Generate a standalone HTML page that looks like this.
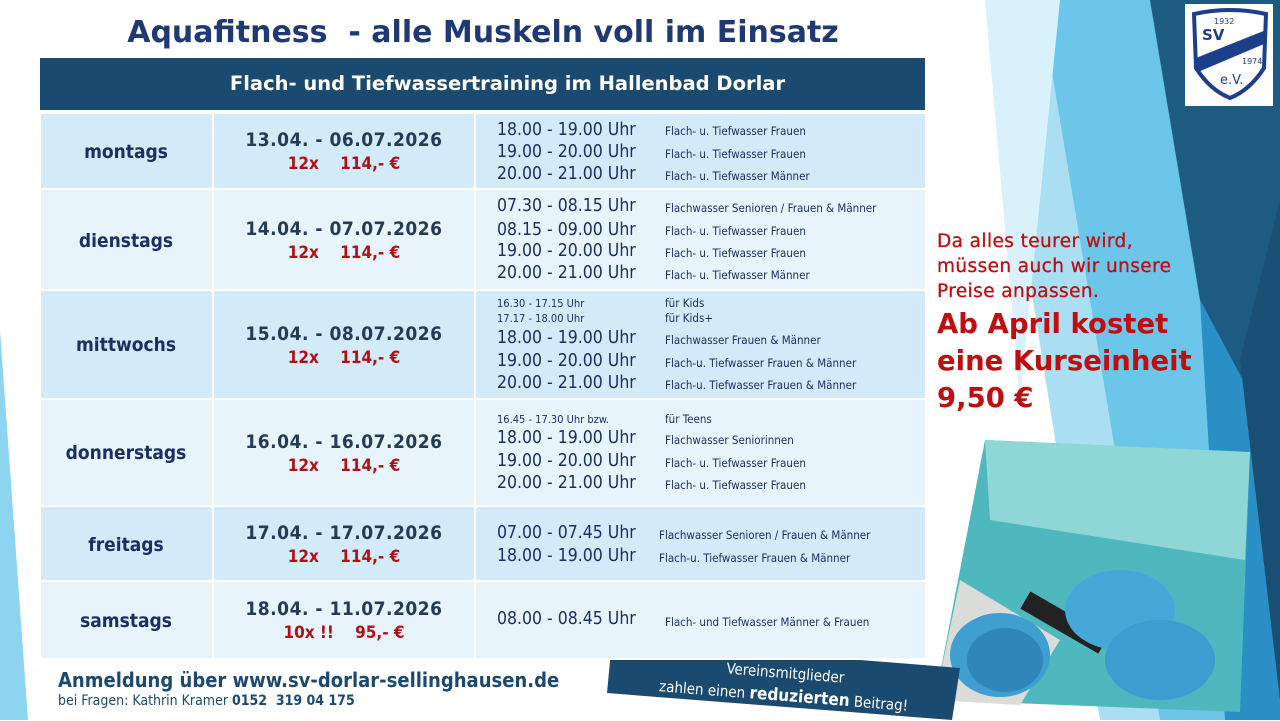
<!DOCTYPE html>
<html><head><meta charset="utf-8"><style>
*{margin:0;padding:0;box-sizing:border-box}
body{width:1280px;height:720px;position:relative;overflow:hidden;background:#fff;font-family:"DejaVu Sans Condensed","DejaVu Sans","Liberation Sans",sans-serif}
.a{position:absolute;white-space:nowrap}
.day{color:#1b2f63;font-weight:bold;font-size:19px;text-align:center;width:172px;left:40px}
.date{color:#243a55;font-weight:bold;font-size:19px;text-align:center;width:260px;left:214px;letter-spacing:0.5px}
.pr{color:#b01015;font-weight:bold;font-size:17px;text-align:center;width:260px;left:214px}
.t{color:#1b2f63;font-size:17.5px;left:497px}
.s{color:#1b2f63;font-size:11.5px}
.ts{color:#1b2f63;font-size:11px;left:497px}
</style></head><body>
<svg class="a" style="left:0;top:0" width="1280" height="720">
<polygon points="985,0 1280,0 1280,720 1100,720" fill="#a9def3"/>
<polygon points="1040,0 1190,0 1280,330 1280,720 1160,720" fill="#6cc6ea"/>
<polygon points="1150,0 1280,0 1280,720 1225,720 1280,450 1200,300" fill="#1d5b83"/>
<polygon points="1200,300 1280,450 1280,720 1225,720" fill="#2a8fc4"/>
<polygon points="1240,360 1280,200 1280,700" fill="#1a4f75"/>
<polygon points="985,0 1060,0 1020,400" fill="#d8f1fb"/>
<polygon points="0,330 0,720 28,720" fill="#8dd4f0"/>
<polygon points="985,440 1250,452 1240,712 935,700" fill="#4fb8bf"/>
<polygon points="985,440 1250,452 1245,560 990,520" fill="#8fd6d6"/>
<polygon points="960,580 1060,640 1020,705 935,700" fill="#d9dcd8"/>
<ellipse cx="1000" cy="655" rx="50" ry="42" fill="#3e9fd0"/>
<ellipse cx="1005" cy="660" rx="38" ry="32" fill="#2f86bb"/>
<rect x="1020" y="610" width="90" height="20" fill="#222" transform="rotate(30 1060 620)"/>
<ellipse cx="1120" cy="610" rx="55" ry="40" fill="#45a8d8"/>
<ellipse cx="1160" cy="660" rx="55" ry="40" fill="#3b9dd0"/>
<polygon points="612,640 960,668 952,720 607,693" fill="#1b4a70"/>
</svg>
<div class="a" style="left:1185px;top:4px;width:88px;height:102px;background:#fff"></div>
<svg class="a" style="left:1190px;top:8px" width="80" height="94"><path d="M4 6 Q40 -2 76 6 L74 60 Q60 82 40 90 Q20 82 6 60 Z" fill="#fff" stroke="#1d3e8a" stroke-width="4"/><polygon points="6,50 76,22 74,36 8,64" fill="#1d3e8a"/>
<text x="24" y="16" font-size="8" fill="#1d3e8a" font-family="DejaVu Sans">1932</text><text x="12" y="32" font-size="15" font-weight="bold" fill="#1d3e8a" font-family="DejaVu Sans">SV</text><text x="52" y="56" font-size="8" fill="#1d3e8a" font-family="DejaVu Sans">1974</text><text x="30" y="76" font-size="13" fill="#1d3e8a" font-family="DejaVu Sans">e.V.</text></svg>

<div class="a" style="left:0;width:966px;top:15px;text-align:center;font-family:'DejaVu Sans',sans-serif;font-weight:bold;font-size:30px;color:#1f3a73">Aquafitness&nbsp; - alle Muskeln voll im Einsatz</div>
<div class="a" style="left:40px;top:58px;width:885px;height:52px;background:#1b4a70;color:#fff;font-weight:bold;font-size:19.5px;text-align:center;line-height:52px;padding-left:50px;font-family:'DejaVu Sans',sans-serif">Flach- und Tiefwassertraining im Hallenbad Dorlar</div>

<div class="a" style="left:40px;top:112px;width:885px;height:548px;background:#fff"></div>
<div class="a" style="left:41px;top:114px;width:171px;height:74px;background:#d3eaf8"></div><div class="a" style="left:214px;top:114px;width:260px;height:74px;background:#d3eaf8"></div><div class="a" style="left:476px;top:114px;width:449px;height:74px;background:#d3eaf8"></div>
<div class="a" style="left:41px;top:190px;width:171px;height:99px;background:#e8f4fb"></div><div class="a" style="left:214px;top:190px;width:260px;height:99px;background:#e8f4fb"></div><div class="a" style="left:476px;top:190px;width:449px;height:99px;background:#e8f4fb"></div>
<div class="a" style="left:41px;top:291px;width:171px;height:107px;background:#d3eaf8"></div><div class="a" style="left:214px;top:291px;width:260px;height:107px;background:#d3eaf8"></div><div class="a" style="left:476px;top:291px;width:449px;height:107px;background:#d3eaf8"></div>
<div class="a" style="left:41px;top:400px;width:171px;height:105px;background:#e8f4fb"></div><div class="a" style="left:214px;top:400px;width:260px;height:105px;background:#e8f4fb"></div><div class="a" style="left:476px;top:400px;width:449px;height:105px;background:#e8f4fb"></div>
<div class="a" style="left:41px;top:507px;width:171px;height:73px;background:#d3eaf8"></div><div class="a" style="left:214px;top:507px;width:260px;height:73px;background:#d3eaf8"></div><div class="a" style="left:476px;top:507px;width:449px;height:73px;background:#d3eaf8"></div>
<div class="a" style="left:41px;top:582px;width:171px;height:76px;background:#e8f4fb"></div><div class="a" style="left:214px;top:582px;width:260px;height:76px;background:#e8f4fb"></div><div class="a" style="left:476px;top:582px;width:449px;height:76px;background:#e8f4fb"></div>

<div class="a day" style="top:141px">montags</div>
<div class="a day" style="top:230px">dienstags</div>
<div class="a day" style="top:334px">mittwochs</div>
<div class="a day" style="top:442px">donnerstags</div>
<div class="a day" style="top:534px">freitags</div>
<div class="a day" style="top:610px">samstags</div>

<div class="a date" style="top:129px">13.04. - 06.07.2026</div><div class="a pr" style="top:154px">12x &nbsp;&nbsp;&nbsp;114,- €</div>
<div class="a date" style="top:218px">14.04. - 07.07.2026</div><div class="a pr" style="top:243px">12x &nbsp;&nbsp;&nbsp;114,- €</div>
<div class="a date" style="top:323px">15.04. - 08.07.2026</div><div class="a pr" style="top:348px">12x &nbsp;&nbsp;&nbsp;114,- €</div>
<div class="a date" style="top:431px">16.04. - 16.07.2026</div><div class="a pr" style="top:456px">12x &nbsp;&nbsp;&nbsp;114,- €</div>
<div class="a date" style="top:522px">17.04. - 17.07.2026</div><div class="a pr" style="top:547px">12x &nbsp;&nbsp;&nbsp;114,- €</div>
<div class="a date" style="top:598px">18.04. - 11.07.2026</div><div class="a pr" style="top:623px">10x !! &nbsp;&nbsp;&nbsp;95,- €</div>

<div class="a t" style="top:120px">18.00 - 19.00 Uhr</div><div class="a s" style="left:665px;top:124px">Flach- u. Tiefwasser Frauen</div>
<div class="a t" style="top:142px">19.00 - 20.00 Uhr</div><div class="a s" style="left:665px;top:147px">Flach- u. Tiefwasser Frauen</div>
<div class="a t" style="top:164px">20.00 - 21.00 Uhr</div><div class="a s" style="left:665px;top:169px">Flach- u. Tiefwasser Männer</div>

<div class="a t" style="top:196px">07.30 - 08.15 Uhr</div><div class="a s" style="left:665px;top:201px">Flachwasser Senioren / Frauen &amp; Männer</div>
<div class="a t" style="top:220px">08.15 - 09.00 Uhr</div><div class="a s" style="left:665px;top:224px">Flach- u. Tiefwasser Frauen</div>
<div class="a t" style="top:241px">19.00 - 20.00 Uhr</div><div class="a s" style="left:665px;top:246px">Flach- u. Tiefwasser Frauen</div>
<div class="a t" style="top:263px">20.00 - 21.00 Uhr</div><div class="a s" style="left:665px;top:268px">Flach- u. Tiefwasser Männer</div>

<div class="a ts" style="top:297px">16.30 - 17.15 Uhr</div><div class="a s" style="left:665px;top:296px">für Kids</div>
<div class="a ts" style="top:312px">17.17 - 18.00 Uhr</div><div class="a s" style="left:665px;top:311px">für Kids+</div>
<div class="a t" style="top:328px">18.00 - 19.00 Uhr</div><div class="a s" style="left:665px;top:333px">Flachwasser Frauen &amp; Männer</div>
<div class="a t" style="top:351px">19.00 - 20.00 Uhr</div><div class="a s" style="left:665px;top:356px">Flach-u. Tiefwasser Frauen &amp; Männer</div>
<div class="a t" style="top:373px">20.00 - 21.00 Uhr</div><div class="a s" style="left:665px;top:378px">Flach-u. Tiefwasser Frauen &amp; Männer</div>

<div class="a ts" style="top:413px">16.45 - 17.30 Uhr bzw.</div><div class="a s" style="left:665px;top:412px">für Teens</div>
<div class="a t" style="top:428px">18.00 - 19.00 Uhr</div><div class="a s" style="left:665px;top:433px">Flachwasser Seniorinnen</div>
<div class="a t" style="top:451px">19.00 - 20.00 Uhr</div><div class="a s" style="left:665px;top:456px">Flach- u. Tiefwasser Frauen</div>
<div class="a t" style="top:473px">20.00 - 21.00 Uhr</div><div class="a s" style="left:665px;top:478px">Flach- u. Tiefwasser Frauen</div>

<div class="a t" style="top:523px">07.00 - 07.45 Uhr</div><div class="a s" style="left:659px;top:528px">Flachwasser Senioren / Frauen &amp; Männer</div>
<div class="a t" style="top:546px">18.00 - 19.00 Uhr</div><div class="a s" style="left:659px;top:551px">Flach-u. Tiefwasser Frauen &amp; Männer</div>

<div class="a t" style="top:609px">08.00 - 08.45 Uhr</div><div class="a s" style="left:665px;top:615px">Flach- und Tiefwasser Männer &amp; Frauen</div>

<div class="a" style="left:58px;top:668px;font-size:20px;font-weight:bold;color:#1b4a70;font-family:'DejaVu Sans Condensed',sans-serif">Anmeldung über www.sv-dorlar-sellinghausen.de</div>
<div class="a" style="left:58px;top:693px;font-size:14px;color:#1b4a70">bei Fragen: Kathrin Kramer <b>0152&nbsp; 319 04 175</b></div>

<div class="a" style="left:612px;top:662px;width:345px;text-align:center;color:#fff;font-size:15px;line-height:23px;transform:rotate(4.5deg);transform-origin:center">Vereinsmitglieder<br>zahlen einen <b style="font-size:17px">reduzierten</b> Beitrag!</div>

<div class="a" style="left:937px;top:229px;color:#c00d0f;font-size:18.5px;line-height:25px;letter-spacing:0.4px;font-family:'DejaVu Sans',sans-serif;-webkit-text-stroke:0.3px #c00d0f">Da alles teurer wird,<br>müssen auch wir unsere<br>Preise anpassen.</div>
<div class="a" style="left:937px;top:306px;color:#c00d0f;font-size:27.5px;font-weight:bold;line-height:37px;font-family:'DejaVu Sans',sans-serif">Ab April kostet<br>eine Kurseinheit<br>9,50 €</div>
</body></html>
